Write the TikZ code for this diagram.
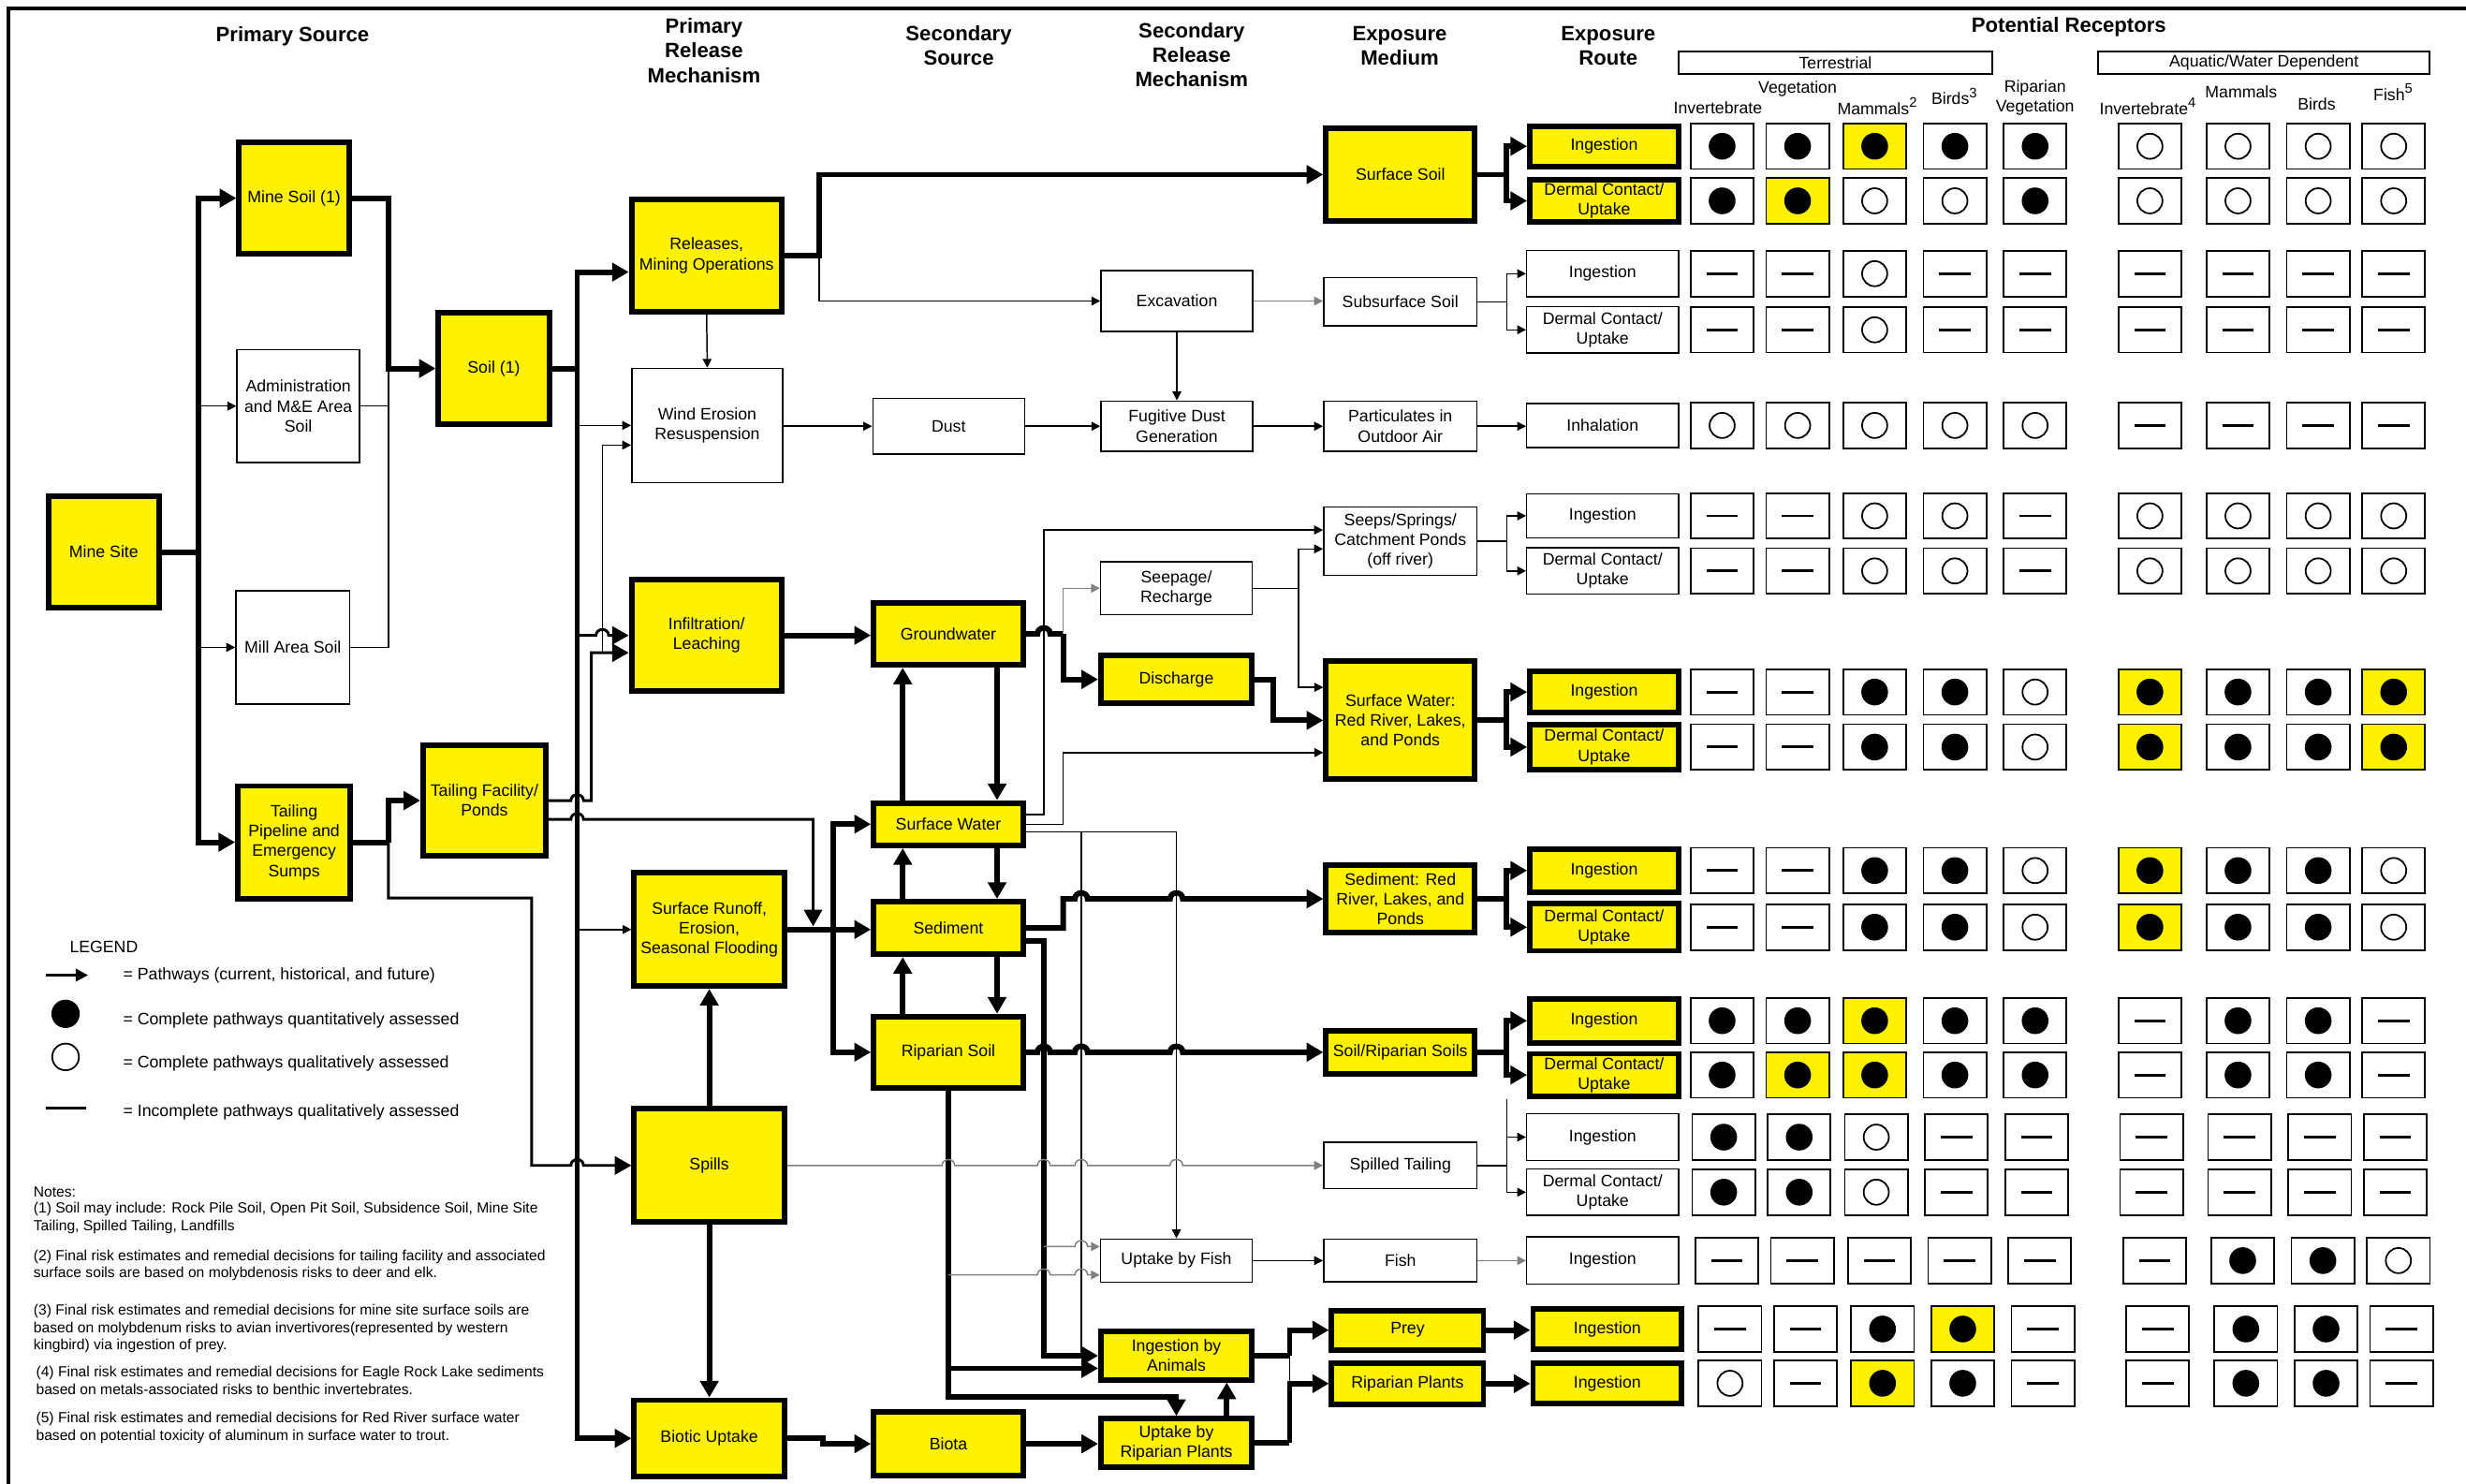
\documentclass[tikz,border=0pt]{standalone}
\usepackage{fontspec}
\setmainfont{Liberation Sans}
\usetikzlibrary{arrows.meta}

\newcommand\boxfont{\fontsize{6}{7.2}\selectfont}
\newcommand\hdrfont{\fontsize{7.5}{8.9}\selectfont\bfseries}
\newcommand\notefont{\fontsize{5.3}{6.4}\selectfont}
% one row of receptor cells: row no., y, x offset, marks
\newcommand\cellrow[4]{%
  \foreach \c [count=\k] in {#4}{%
    \pgfmathsetmacro\cx{{1095,1143,1192,1243,1294,1367,1423,1474,1522}[\k-1]+#3}%
    \edef\tmp{\noexpand\node[cell\c] (c#1-\k) at (\cx,#2) {};}\tmp
  }}

\begin{document}
\begin{tikzpicture}[x=0.02cm, y=-0.02cm,
    ybox/.style={draw, fill=yellow, line width=2pt, align=center, inner sep=0pt, font=\boxfont},
    wbox/.style={draw, line width=0.5pt, align=center, inner sep=0pt, font=\boxfont},
    sz/.style 2 args={minimum width=#1*0.02cm, minimum height=#2*0.02cm},
    hdr/.style={align=center, inner sep=0pt, font=\hdrfont},
    lbl/.style={align=center, inner sep=0pt, font=\boxfont},
    lgd/.style={anchor=west, inner sep=0pt, font=\fontsize{6}{7}\selectfont},
    note/.style={anchor=west, align=left, inner sep=0pt, font=\notefont},
    thk/.style={line width=2pt},
    med/.style={line width=1pt},
    thn/.style={line width=0.5pt},
    gry/.style={line width=0.5pt, draw=black!50},
    bigtip/.style={-{Triangle[length=6pt,width=6.5pt]}},
    smtip/.style={-{Triangle[length=3.2pt,width=3.2pt]}},
    cell/.style={draw, line width=0.6pt, minimum width=0.8cm, minimum height=0.58cm, inner sep=0pt},
    dotpic/.style={path picture={\fill[black] (path picture bounding box.center) circle[radius=0.17cm];}},
    cellF/.style={cell, dotpic},
    cellY/.style={cell, fill=yellow, dotpic},
    cellO/.style={cell, path picture={\draw[black, line width=0.6pt] (path picture bounding box.center) circle[radius=0.16cm];}},
    cellD/.style={cell, path picture={\draw[black, line width=1pt] ([xshift=-0.2cm]path picture bounding box.center) -- ([xshift=0.2cm]path picture bounding box.center);}}
]
    \useasboundingbox (0,0) rectangle (1568,943.5);
    \draw[line width=1.2pt] (5.3,943.5) -- (5.3,5.4) -- (1568,5.4);

    % Column headings
    \node[hdr] (hps) at (186,23) {Primary Source};
    \node[hdr] (hprm) at (447.6,32.2) {Primary\\Release\\Mechanism};
    \node[hdr] (hss) at (609.6,29) {Secondary\\Source};
    \node[hdr] (hsrm) at (757.7,35) {Secondary\\Release\\Mechanism};
    \node[hdr] (hem) at (890,29) {Exposure\\Medium};
    \node[hdr] (her) at (1022.6,29) {Exposure\\Route};
    \node[hdr] (hpr) at (1315.5,17) {Potential Receptors};
    \node[wbox, line width=0.7pt, sz={199.5}{14.5}] (terr) at (1167,39.8) {Terrestrial};
    \node[wbox, line width=0.7pt, sz={210.5}{14.5}] (aqua) at (1439.5,39.8) {Aquatic/Water Dependent};
    \node[lbl] (tinv) at (1092.3,68.4) {Invertebrate};
    \node[lbl] (tveg) at (1143,56.3) {Vegetation};
    \node[lbl] (tmam) at (1194,67.6) {Mammals\textsuperscript{2}};
    \node[lbl] (tbrd) at (1243,61.2) {Birds\textsuperscript{3}};
    \node[lbl] (trip) at (1294,62) {Riparian\\Vegetation};
    \node[lbl] (ainv) at (1366,67.6) {Invertebrate\textsuperscript{4}};
    \node[lbl] (amam) at (1425,58.7) {Mammals};
    \node[lbl] (abrd) at (1473,66.3) {Birds};
    \node[lbl] (afsh) at (1522,58.7) {Fish\textsuperscript{5}};

    % Primary source
    \node[ybox, sz={70.5}{70.5}] (minesite) at (66,351) {Mine Site};
    \node[ybox, sz={70}{70.5}] (minesoil) at (187,126) {Mine Soil (1)};
    \node[wbox, sz={78}{72}] (admin) at (189.7,258.2) {Administration\\and M\&E Area\\Soil};
    \node[wbox, sz={72.5}{72}] (mill) at (186.2,411.6) {Mill Area Soil};
    \node[ybox, sz={71.5}{71.5}] (tailpipe) at (187,535.5) {Tailing\\Pipeline and\\Emergency\\Sumps};
    \node[ybox, sz={70.5}{71}] (soil) at (314,234.3) {Soil (1)};
    \node[ybox, sz={78}{70.5}] (tailfac) at (308,509) {Tailing Facility/\\Ponds};

    % Primary release mechanism
    \node[ybox, sz={95.5}{71.5}] (releases) at (449.3,162.4) {Releases,\\Mining Operations};
    \node[wbox, sz={96}{72.5}] (wind) at (449.7,270.5) {Wind Erosion\\Resuspension};
    \node[ybox, sz={95.5}{71}] (infil) at (449.3,404) {Infiltration/\\Leaching};
    \node[ybox, sz={95.5}{72}] (runoff) at (451,591) {Surface Runoff,\\Erosion,\\Seasonal Flooding};
    \node[ybox, sz={95.5}{72}] (spills) at (451,741) {Spills};
    \node[ybox, sz={95.5}{48.5}] (biotic) at (451,914.5) {Biotic Uptake};

    % Secondary source
    \node[wbox, sz={96.5}{35.5}] (dust) at (603.2,271) {Dust};
    \node[ybox, sz={95}{39.5}] (groundwater) at (603,403) {Groundwater};
    \node[ybox, sz={95}{27}] (surfwater) at (603,524) {Surface Water};
    \node[ybox, sz={95}{33.5}] (sediment) at (603,590) {Sediment};
    \node[ybox, sz={95}{45.5}] (ripsoil) at (603,669) {Riparian Soil};
    \node[ybox, sz={95}{40.5}] (biota) at (603,918) {Biota};

    % Secondary release mechanism
    \node[wbox, sz={96.5}{38.5}] (excav) at (748.3,191.4) {Excavation};
    \node[wbox, sz={96.5}{32}] (fugitive) at (748.3,271) {Fugitive Dust\\Generation};
    \node[wbox, sz={96.5}{33.5}] (seepage) at (748,374) {Seepage/\\Recharge};
    \node[ybox, sz={96}{30.5}] (discharge) at (748,432) {Discharge};
    \node[wbox, sz={96.5}{27.5}] (fishupt) at (748,801.5) {Uptake by Fish};
    \node[ybox, sz={96}{30.5}] (ingani) at (748,862) {Ingestion by\\Animals};
    \node[ybox, sz={96}{31}] (uptrip) at (748,917.5) {Uptake by\\Riparian Plants};

    % Exposure medium
    \node[ybox, sz={94.5}{58.5}] (surfsoil) at (890.4,111) {Surface Soil};
    \node[wbox, sz={97.5}{30.5}] (subsoil) at (890.4,191.9) {Subsurface Soil};
    \node[wbox, sz={97.5}{32}] (partic) at (890.4,271) {Particulates in\\Outdoor Air};
    \node[wbox, sz={97.5}{43.5}] (seeps) at (890.4,344) {Seeps/Springs/\\Catchment Ponds\\(off river)};
    \node[ybox, sz={94.5}{75}] (swrr) at (890.4,458) {Surface Water:\\Red River, Lakes,\\and Ponds};
    \node[ybox, sz={94.5}{42.5}] (sedrr) at (890.4,571.5) {Sediment: Red\\River, Lakes, and\\Ponds};
    \node[ybox, sz={94.5}{27.5}] (soilrip) at (890.4,669) {Soil/Riparian Soils};
    \node[wbox, sz={97.5}{29.5}] (spilled) at (890.4,741) {Spilled Tailing};
    \node[wbox, sz={97.5}{27}] (fish) at (890.4,801.5) {Fish};
    \node[ybox, sz={96.5}{25}] (prey) at (895,845.7) {Prey};
    \node[ybox, sz={96.5}{26}] (ripplants) at (895,879.7) {Riparian Plants};

    % Exposure route
    \node[ybox, sz={94.5}{25.5}] (r1) at (1020,93) {Ingestion};
    \node[ybox, sz={94.5}{27}] (r2) at (1020,127.7) {Dermal Contact/\\Uptake};
    \node[wbox, sz={96.5}{29.5}] (r3) at (1019,174) {Ingestion};
    \node[wbox, sz={96.5}{29.5}] (r4) at (1019,209.7) {Dermal Contact/\\Uptake};
    \node[wbox, sz={96.5}{28}] (r5) at (1019,270.5) {Inhalation};
    \node[wbox, sz={96.5}{28}] (r6) at (1019,328) {Ingestion};
    \node[wbox, sz={96.5}{29.5}] (r7) at (1019,363) {Dermal Contact/\\Uptake};
    \node[ybox, sz={94.5}{26.5}] (r8) at (1020,440) {Ingestion};
    \node[ybox, sz={94.5}{29}] (r9) at (1020,475) {Dermal Contact/\\Uptake};
    \node[ybox, sz={94.5}{27.5}] (r10) at (1020,553.5) {Ingestion};
    \node[ybox, sz={94.5}{30}] (r11) at (1020,589.5) {Dermal Contact/\\Uptake};
    \node[ybox, sz={94.5}{28}] (r12) at (1020,649) {Ingestion};
    \node[ybox, sz={94.5}{27}] (r13) at (1020,683.5) {Dermal Contact/\\Uptake};
    \node[wbox, sz={96.5}{29.5}] (r14) at (1019,723) {Ingestion};
    \node[wbox, sz={96.5}{29.5}] (r15) at (1019,758) {Dermal Contact/\\Uptake};
    \node[wbox, sz={96.5}{30}] (r16) at (1019,801.5) {Ingestion};
    \node[ybox, sz={94.5}{26}] (r17) at (1022,845) {Ingestion};
    \node[ybox, sz={94.5}{26}] (r18) at (1022,879.5) {Ingestion};

    % Potential receptors
    \cellrow{1}{93}{0}{F,F,Y,F,F,O,O,O,O}
    \cellrow{2}{127.7}{0}{F,Y,O,O,F,O,O,O,O}
    \cellrow{3}{174}{0}{D,D,O,D,D,D,D,D,D}
    \cellrow{4}{209.7}{0}{D,D,O,D,D,D,D,D,D}
    \cellrow{5}{270.5}{0}{O,O,O,O,O,D,D,D,D}
    \cellrow{6}{328}{0}{D,D,O,O,D,O,O,O,O}
    \cellrow{7}{363}{0}{D,D,O,O,D,O,O,O,O}
    \cellrow{8}{440}{0}{D,D,F,F,O,Y,F,F,Y}
    \cellrow{9}{475}{0}{D,D,F,F,O,Y,F,F,Y}
    \cellrow{10}{553.5}{0}{D,D,F,F,O,Y,F,F,O}
    \cellrow{11}{589.5}{0}{D,D,F,F,O,Y,F,F,O}
    \cellrow{12}{649}{0}{F,F,Y,F,F,D,F,F,D}
    \cellrow{13}{683.5}{0}{F,Y,Y,F,F,D,F,F,D}
    \cellrow{14}{723}{1}{F,F,O,D,D,D,D,D,D}
    \cellrow{15}{758}{1}{F,F,O,D,D,D,D,D,D}
    \cellrow{16}{801.5}{3}{D,D,D,D,D,D,F,F,O}
    \cellrow{17}{845}{5}{D,D,F,Y,D,D,F,F,D}
    \cellrow{18}{879.5}{5}{O,D,Y,F,D,D,F,F,D}

    % Mine site branches
    \coordinate (msj) at (126,351);
    \draw[thk] (minesite.east) -- (msj);
    \draw[thk, bigtip] (msj) |- (minesoil.west);
    \draw[thk, bigtip] (msj) |- (tailpipe.west);
    \draw[thn, smtip] (msj |- admin.west) -- (admin.west);
    \draw[thn, smtip] (msj |- mill.west) -- (mill.west);

    \coordinate (sj) at (247,234.3);
    \draw[thk, bigtip] (minesoil.east) -| (sj) -- (soil.west);
    \draw[thn] (admin.east) -- (sj |- admin.east);
    \draw[thn] (mill.east) -| (sj);

    \coordinate (tpj) at (247,535.5);
    \draw[thk] (tailpipe.east) -- (tpj);
    \draw[thk, bigtip] (tpj) |- (tailfac.west);
    \draw[med, bigtip] (tpj) |- (338,571) -- (338,741) -- (363,741) .. controls (363,736) and (371,736) .. (371,741) -- (spills.west);

    % Soil trunk
    \coordinate (stj) at (367,234.3);
    \draw[thk] (soil.east) -- (stj);
    \draw[thk, bigtip] (stj) |- (releases.west |- 0,173);
    \draw[thk, bigtip] (stj) |- (biotic.west);
    \draw[thn, smtip] (stj |- 0,270.5) -- (wind.west |- 0,270.5);
    \draw[med, bigtip] (stj |- 0,404) -- (379,404) .. controls (379,399) and (387,399) .. (387,404) -- (infil.west);
    \draw[thn, smtip] (stj |- runoff.west) -- (runoff.west);

    % Tailing facility
    \coordinate (tfj) at (376,415);
    \draw[med, bigtip] (tailfac.east) -- (363,509) .. controls (363,504) and (371,504) .. (371,509) -- (376,509) -- (tfj) -- (infil.west |- tfj);
    \draw[thn, smtip] (tfj) -- (383,415) -- (383,283) -- (wind.west |- 0,283);
    \coordinate (rsj) at (517,589);
    \draw[med, bigtip] (tailfac.east |- 0,521) -- (363,521) .. controls (363,516) and (371,516) .. (371,521) -- (517,521) -- (rsj);

    % Releases
    \coordinate (rlj) at (521,162.4);
    \draw[thk, bigtip] (releases.east) -- (rlj) |- (surfsoil.west);
    \draw[thn, smtip] (rlj) |- (excav.west);
    \draw[thn, smtip] (releases.south) -- (wind.north);
    \draw[thn, smtip] (wind.east |- dust.west) -- (dust.west);
    \draw[thn, smtip] (dust.east) -- (fugitive.west);
    \draw[thn, smtip] (fugitive.east) -- (partic.west);
    \draw[gry, smtip] (excav.east) -- (subsoil.west |- excav.east);
    \draw[thn, smtip] (excav.south) -- (fugitive.north);

    % Groundwater
    \draw[thk, bigtip] (infil.east) -- (groundwater.west |- infil.east);
    \coordinate (gwj) at (676,403);
    \draw[thk] (groundwater.east) -- (659.7,403) .. controls (659.7,398) and (667.7,398) .. (667.7,403) -- (gwj);
    \draw[thk, bigtip] (gwj) |- (discharge.west);
    \draw[gry, smtip] (gwj) |- (seepage.west);
    \draw[thk, bigtip] (groundwater.south -| 634,0) -- (surfwater.north -| 634,0);
    \draw[thk, bigtip] (surfwater.north -| 574,0) -- (groundwater.south -| 574,0);
    \draw[thk, bigtip] (surfwater.south -| 634,0) -- (sediment.north -| 634,0);
    \draw[thk, bigtip] (sediment.north -| 574,0) -- (surfwater.south -| 574,0);
    \draw[thk, bigtip] (sediment.south -| 634,0) -- (ripsoil.north -| 634,0);
    \draw[thk, bigtip] (ripsoil.north -| 574,0) -- (sediment.south -| 574,0);

    % Surface water
    \draw[thn, smtip] (surfwater.east |- 0,518) -| (663.7,337) -- (seeps.west |- 0,337);
    \draw[thn, smtip] (surfwater.east |- 0,524) -| (676,478.5) -- (swrr.west |- 0,478.5);
    \draw[thn, smtip] (surfwater.east |- 0,529) -| (fishupt.north);
    \coordinate (swj) at (687.5,529);
    \draw[thn] (swj) -- (swj |- ingani.west);

    % Seepage and discharge
    \coordinate (spj) at (825.6,374);
    \draw[thn] (seepage.east) -- (spj);
    \draw[thn, smtip] (spj) |- (seeps.west |- 0,349);
    \draw[thn, smtip] (spj) |- (swrr.west |- 0,437);
    \draw[thk, bigtip] (discharge.east) -- (809.5,432) |- (swrr.west);

    % Sediment
    \draw[thk, bigtip] (sediment.east) -- (676,590) -- (676,571.5) -- (683.5,571.5) .. controls (683.5,566.5) and (691.5,566.5) .. (691.5,571.5) -- (744,571.5) .. controls (744,566.5) and (752,566.5) .. (752,571.5) -- (sedrr.west);
    \draw[thk, bigtip] (sediment.east |- 0,598) -| (663.7,862) -- (ingani.west);
    \coordinate (sdj) at (663.7,792.6);
    \draw[gry, smtip] (sdj) -- (683.5,792.6) .. controls (683.5,787.6) and (691.5,787.6) .. (691.5,792.6) -- (fishupt.west |- 0,792.6);

    % Riparian soil
    \draw[thk, bigtip] (ripsoil.east) -- (659.7,669) .. controls (659.7,664) and (667.7,664) .. (667.7,669) -- (683.5,669) .. controls (683.5,664) and (691.5,664) .. (691.5,669) -- (744,669) .. controls (744,664) and (752,664) .. (752,669) -- (soilrip.west);
    \draw[thk, bigtip] (ripsoil.south) -- (603,888) -| (uptrip.north);
    \coordinate (rsj2) at (603,870);
    \draw[thk, bigtip] (rsj2) -- (ingani.west |- rsj2);
    \coordinate (rfj) at (603,810.6);
    \draw[gry, smtip] (rfj) -- (659.7,810.6) .. controls (659.7,805.6) and (667.7,805.6) .. (667.7,810.6) -- (683.5,810.6) .. controls (683.5,805.6) and (691.5,805.6) .. (691.5,810.6) -- (fishupt.west |- 0,810.6);

    % Runoff and spills
    \draw[thk, bigtip] (runoff.east) -- (sediment.west |- runoff.east);
    \coordinate (roj) at (530,591);
    \draw[thk, bigtip] (roj) |- (surfwater.west);
    \draw[thk, bigtip] (roj) |- (ripsoil.west);
    \draw[thk, bigtip] (spills.north) -- (runoff.south);
    \draw[thk, bigtip] (spills.south) -- (biotic.north);
    \draw[gry, smtip] (spills.east) -- (599,741) .. controls (599,736) and (607,736) .. (607,741) -- (659.7,741) .. controls (659.7,736) and (667.7,736) .. (667.7,741) -- (683.5,741) .. controls (683.5,736) and (691.5,736) .. (691.5,741) -- (744,741) .. controls (744,736) and (752,736) .. (752,741) -- (spilled.west);

    % Biota
    \draw[thk, bigtip] (biotic.east) -- (523,914.5) -- (523,918) -- (biota.west);
    \draw[thk, bigtip] (biota.east) -- (uptrip.west |- biota.east);
    \draw[thk, bigtip] (uptrip.north -| 780,0) -- (ingani.south -| 780,0);
    \coordinate (iaj) at (820,862);
    \coordinate (urj) at (820,917.5);
    \draw[thk] (ingani.east) -- (iaj);
    \draw[thk, bigtip] (iaj) |- (prey.west);
    \draw[thk] (uptrip.east) -- (urj);
    \draw[thk, bigtip] (urj) |- (ripplants.west);
    \draw[thn] (iaj) -- (iaj |- ripplants.west);
    \draw[thn, smtip] (fishupt.east) -- (fish.west);

    % Exposure medium to route
    \coordinate (e1) at (958,111);
    \draw[thk] (surfsoil.east) -- (e1);
    \draw[thk, bigtip] (e1) |- (r1.west);
    \draw[thk, bigtip] (e1) |- (r2.west);
    \coordinate (e2) at (958,191.9);
    \draw[thn] (subsoil.east) -- (e2);
    \draw[thn, smtip] (e2) |- (r3.west);
    \draw[thn, smtip] (e2) |- (r4.west);
    \draw[thn, smtip] (partic.east) -- (r5.west |- partic.east);
    \coordinate (e3) at (958,344);
    \draw[thn] (seeps.east) -- (e3);
    \draw[thn, smtip] (e3) |- (r6.west);
    \draw[thn, smtip] (e3) |- (r7.west);
    \coordinate (e4) at (958,458);
    \draw[thk] (swrr.east) -- (e4);
    \draw[thk, bigtip] (e4) |- (r8.west);
    \draw[thk, bigtip] (e4) |- (r9.west);
    \coordinate (e5) at (958,571.5);
    \draw[thk] (sedrr.east) -- (e5);
    \draw[thk, bigtip] (e5) |- (r10.west);
    \draw[thk, bigtip] (e5) |- (r11.west);
    \coordinate (e6) at (958,669);
    \draw[thk] (soilrip.east) -- (e6);
    \draw[thk, bigtip] (e6) |- (r12.west);
    \draw[thk, bigtip] (e6) |- (r13.west);
    \coordinate (e7) at (958,741);
    \draw[thn] (spilled.east) -- (e7);
    \draw[thn] (e7) -- (e7 |- r13.south);
    \draw[thn, smtip] (e7) |- (r14.west);
    \draw[thn, smtip] (e7) |- (r15.west);
    \draw[gry, smtip] (fish.east) -- (r16.west);
    \draw[thk, bigtip] (prey.east) -- (r17.west |- prey.east);
    \draw[thk, bigtip] (ripplants.east) -- (r18.west |- ripplants.east);

    % Legend
    \node[lgd] (lgdtitle) at (44,602) {LEGEND};
    \coordinate (la0) at (29,620);
    \coordinate (la1) at (56,620);
    \draw[med, -{Triangle[length=4.5pt,width=4.5pt]}] (la0) -- (la1);
    \node[lgd] (lgd1) at (78,620) {= Pathways (current, historical, and future)};
    \node[circle, fill, minimum size=0.36cm, inner sep=0pt] (lgdf) at (41.7,644.6) {};
    \node[lgd] (lgd2) at (78,649) {= Complete pathways quantitatively assessed};
    \node[circle, draw, line width=0.6pt, minimum size=0.34cm, inner sep=0pt] (lgdo) at (41.7,672) {};
    \node[lgd] (lgd3) at (78,676) {= Complete pathways qualitatively assessed};
    \coordinate (ld0) at (29,704.5);
    \coordinate (ld1) at (55,704.5);
    \draw[line width=1pt] (ld0) -- (ld1);
    \node[lgd] (lgd4) at (78,707) {= Incomplete pathways qualitatively assessed};

    % Notes
    \node[note] (n0) at (21,758) {Notes:};
    \node[note] (n1) at (21,774.5) {(1) Soil may include: Rock Pile Soil, Open Pit Soil, Subsidence Soil, Mine Site\\Tailing, Spilled Tailing, Landfills};
    \node[note] (n2) at (21,804.5) {(2) Final risk estimates and remedial decisions for tailing facility and associated\\surface soils are based on molybdenosis risks to deer and elk.};
    \node[note] (n3) at (21,844.7) {(3) Final risk estimates and remedial decisions for mine site surface soils are\\based on molybdenum risks to avian invertivores(represented by western\\kingbird) via ingestion of prey.};
    \node[note] (n4) at (22.6,877.5) {(4) Final risk estimates and remedial decisions for Eagle Rock Lake sediments\\based on metals-associated risks to benthic invertebrates.};
    \node[note] (n5) at (22.6,908) {(5) Final risk estimates and remedial decisions for Red River surface water\\based on potential toxicity of aluminum in surface water to trout.};
\end{tikzpicture}
\end{document}
